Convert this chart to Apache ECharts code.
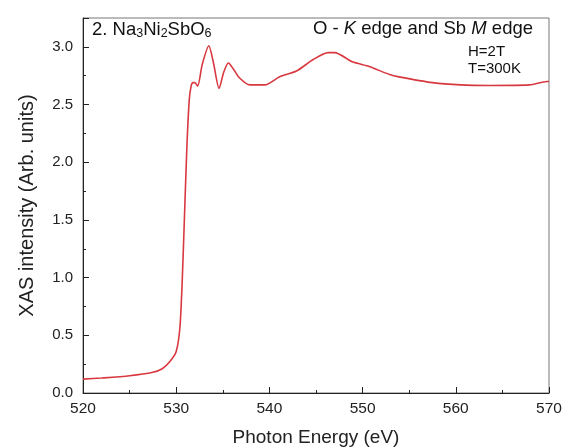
<!DOCTYPE html>
<html>
<head>
<meta charset="utf-8">
<script src="https://cdn.jsdelivr.net/npm/echarts@6/dist/echarts.min.js"></script>
<style>html,body{margin:0;padding:0;background:#fff;}#c{width:563px;height:448px;}</style>
</head>
<body>
<div id="c"></div>
<script>
const energy = [520, 522, 525, 527.5, 528.5, 529.3, 530.0, 530.4, 530.65, 530.9, 531.15, 531.4, 531.6, 531.8, 532.0, 532.3, 532.8, 533.5, 534.0, 534.6, 535.1, 535.6, 536.2, 536.8, 537.9, 539.5, 541.1, 542.9, 544.7, 546.3, 547.0, 548.9, 550.7, 552.9, 553.9, 557.5, 560.5, 563.6, 567.9, 569.8, 570];
const intensity = [0.12, 0.13, 0.15, 0.18, 0.21, 0.27, 0.36, 0.57, 0.98, 1.56, 2.14, 2.54, 2.66, 2.69, 2.69, 2.66, 2.85, 3.01, 2.86, 2.64, 2.78, 2.86, 2.80, 2.73, 2.67, 2.67, 2.74, 2.79, 2.89, 2.95, 2.95, 2.87, 2.83, 2.76, 2.74, 2.69, 2.67, 2.665, 2.67, 2.70, 2.70];
const xTicks = [520, 530, 540, 550, 560, 570];
const yTicks = [0.0, 0.5, 1.0, 1.5, 2.0, 2.5, 3.0];

const chart = echarts.init(document.getElementById('c'));
const font = 'Liberation Sans, Arial, sans-serif';
chart.setOption({
  animation: false,
  grid: {left: 83, right: 14, top: 18, bottom: 55, show: true, borderColor: '#777', borderWidth: 1, containLabel: false, outerBoundsMode: 'none'},
  xAxis: {
    type: 'value', min: 520, max: 570, interval: 10,
    name: 'Photon Energy (eV)', nameLocation: 'middle', nameGap: 35,
    nameTextStyle: {fontFamily: font, fontSize: 19, color: '#222'},
    axisLine: {lineStyle: {color: '#222', width: 1}},
    axisTick: {inside: true, length: 6, lineStyle: {color: '#222'}},
    minorTick: {show: true, splitNumber: 2, length: 3, lineStyle: {color: '#222'}},
    splitLine: {show: false},
    axisLabel: {fontFamily: font, fontSize: 15.5, color: '#222', margin: 8,
      formatter: v => xTicks.includes(v) ? String(v) : ''}
  },
  yAxis: {
    type: 'value', min: 0, max: 3.25, interval: 0.5,
    name: 'XAS intensity (Arb. units)', nameLocation: 'middle', nameGap: 46,
    nameTextStyle: {fontFamily: font, fontSize: 20, color: '#222'},
    axisLine: {show: true, lineStyle: {color: '#222', width: 1}},
    axisTick: {show: true, inside: true, length: 6, lineStyle: {color: '#222'}},
    minorTick: {show: true, splitNumber: 2, length: 3, lineStyle: {color: '#222'}},
    splitLine: {show: false},
    axisLabel: {fontFamily: font, fontSize: 15, color: '#222', margin: 10, showMaxLabel: false,
      formatter: v => { const t = yTicks.find(y => Math.abs(y - v) < 1e-6); return t === undefined ? '' : t.toFixed(1); }}
  },
  series: [{
    type: 'line', data: energy.map((e, i) => [e, intensity[i]]),
    showSymbol: false, smooth: 0.25, clip: true,
    lineStyle: {color: '#d8383f', width: 1.6}
  }],
  graphic: [
    {type: 'text', left: 92, top: 20, style: {
      rich: {n: {fontFamily: font, fontSize: 18.5, fill: '#111'}, s: {fontFamily: font, fontSize: 12.5, fill: '#111', verticalAlign: 'bottom', padding: [9, 0, 0, 0]}},
      text: '{n|2. Na}{s|3}{n|Ni}{s|2}{n|SbO}{s|6}'}},
    {type: 'text', right: 30, top: 19, style: {
      rich: {n: {fontFamily: font, fontSize: 18.5, fill: '#111'}, i: {fontFamily: font, fontSize: 18.5, fontStyle: 'italic', fill: '#111'}},
      text: '{n|O - }{i|K}{n| edge and Sb }{i|M}{n| edge}'}},
    {type: 'text', left: 468, top: 44, style: {text: 'H=2T', fontFamily: font, fontSize: 15, fill: '#111'}},
    {type: 'text', left: 468, top: 61, style: {text: 'T=300K', fontFamily: font, fontSize: 15, fill: '#111'}}
  ]
});
</script>
</body>
</html>
